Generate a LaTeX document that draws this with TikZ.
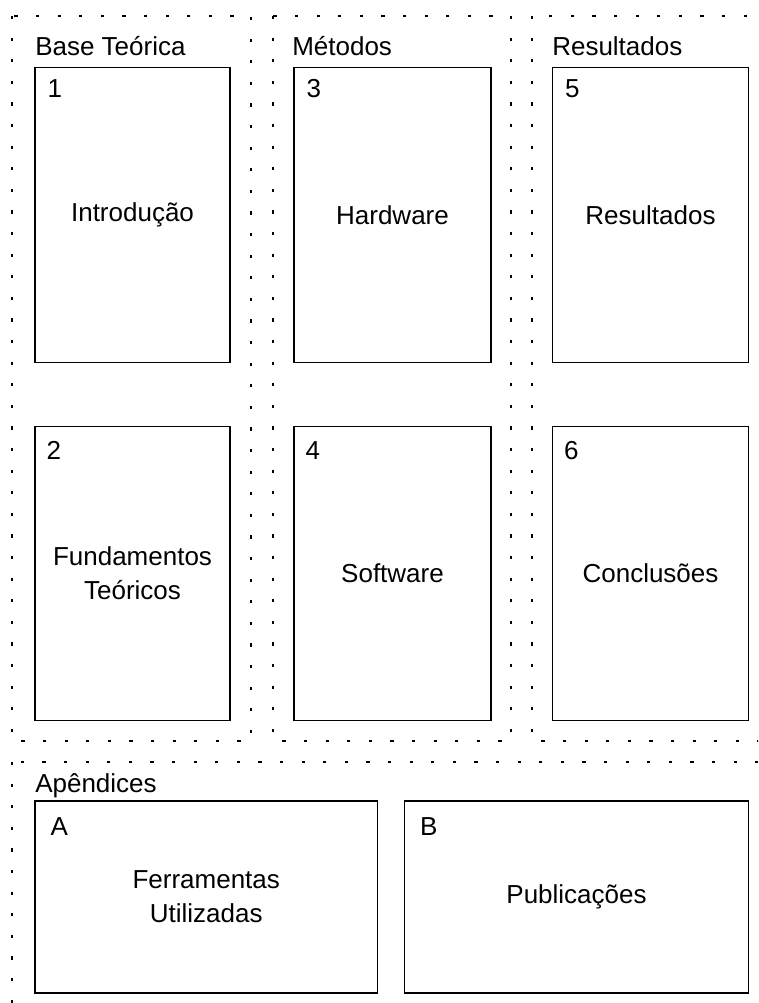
\documentclass[tikz,border=0pt]{standalone}
\usepackage{fontspec}
\setmainfont{Liberation Sans}
\usetikzlibrary{positioning}

\begin{document}
\begin{tikzpicture}[x=0.75pt, y=-0.75pt,
    every node/.style={font=\fontsize{19.5pt}{25.5pt}\selectfont},
    groupline/.style={line width=1.5pt, dash pattern=on 2.4pt off 13.8pt},
    chapbox/.style={draw, line width=0.8pt, align=center, inner sep=0pt},
    chapnum/.style={anchor=base west, inner sep=0pt},
    grouptitle/.style={anchor=base west, inner sep=0pt}]
  %%%%% START %%%%%
  \useasboundingbox (0,0) rectangle (758,1003);
  \clip (0,0) rectangle (758,1003);

  % dotted groups
  \draw[groupline] (12,16) rectangle (251,741);
  \draw[groupline] (273,16) rectangle (511,741);
  \draw[groupline] (532,16) rectangle (800,741);
  \draw[groupline] (12,762) rectangle (800,1060);

  \node[grouptitle] (base) at (35,55) {Base Teórica};
  \node[grouptitle] (metodos) at (292,55) {Métodos};
  \node[grouptitle] (result) at (552,55) {Resultados};
  \node[grouptitle] (apend) at (35,792) {Apêndices};

  % chapters
  \node[chapbox, minimum width=146.25pt, minimum height=221.25pt] (intro) at (132.5,215) {Introdução};
  \node[chapbox, minimum width=146.25pt, minimum height=220.5pt] (fund) at (132.5,573.5) {Fundamentos\\Teóricos};
  \node[chapbox, minimum width=147.75pt, minimum height=221.25pt] (hard) at (392.5,215) {Hardware};
  \node[chapbox, minimum width=147.75pt, minimum height=220.5pt] (soft) at (392.5,573.5) {Software};
  \node[chapbox, minimum width=147pt, minimum height=221.25pt] (res) at (650.5,215) {Resultados};
  \node[chapbox, minimum width=147pt, minimum height=220.5pt] (concl) at (650.5,573.5) {Conclusões};
  \node[chapbox, minimum width=256.9pt, minimum height=144pt] (ferr) at (206.25,897) {Ferramentas\\Utilizadas};
  \node[chapbox, minimum width=258pt, minimum height=144pt] (publ) at (576.5,897) {Publicações};

  % numbers
  \node[chapnum] (n1) at ([shift={(13,31)}]intro.north west) {1};
  \node[chapnum] (n2) at ([shift={(12,34)}]fund.north west) {2};
  \node[chapnum] (n3) at ([shift={(13,31)}]hard.north west) {3};
  \node[chapnum] (n4) at ([shift={(12,34)}]soft.north west) {4};
  \node[chapnum] (n5) at ([shift={(13,31)}]res.north west) {5};
  \node[chapnum] (n6) at ([shift={(12,34)}]concl.north west) {6};
  \node[chapnum] (na) at ([shift={(16,35)}]ferr.north west) {A};
  \node[chapnum] (nb) at ([shift={(16,35)}]publ.north west) {B};
  %%%%% END %%%%%
\end{tikzpicture}
\end{document}
